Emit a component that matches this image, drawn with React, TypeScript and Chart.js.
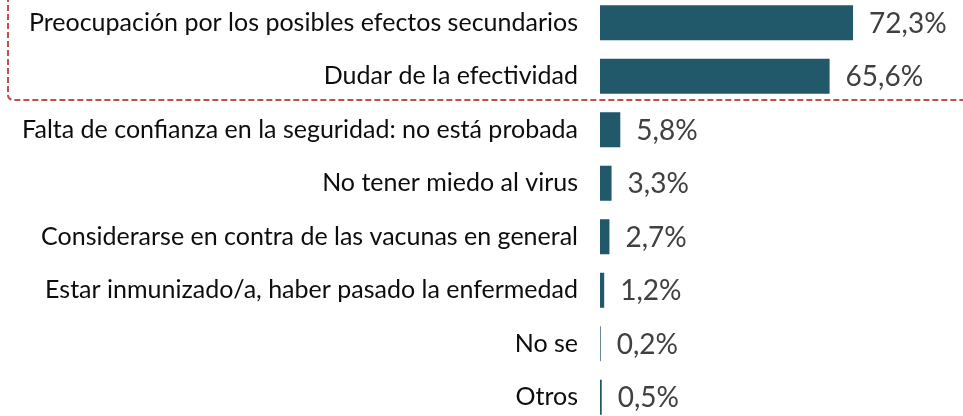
import React, { useEffect, useRef } from "react";
import { Chart, registerables } from "chart.js";

Chart.register(...registerables);

const categories: string[] = [
  "Preocupación por los posibles efectos secundarios",
  "Dudar de la efectividad",
  "Falta de confianza en la seguridad: no está probada",
  "No tener miedo al virus",
  "Considerarse en contra de las vacunas en general",
  "Estar inmunizado/a, haber pasado la enfermedad",
  "No se",
  "Otros",
];

const values: number[] = [72.3, 65.6, 5.8, 3.3, 2.7, 1.2, 0.2, 0.5];

const valueLabels: string[] = ["72,3%", "65,6%", "5,8%", "3,3%", "2,7%", "1,2%", "0,2%", "0,5%"];

const FONT = "Lato, 'Open Sans', sans-serif";

const valueLabelPlugin = {
  id: "valueLabels",
  afterDatasetsDraw(chart: any) {
    const ctx = chart.ctx;
    const meta = chart.getDatasetMeta(0);
    ctx.save();
    ctx.font = `28px ${FONT}`;
    ctx.fillStyle = "#404040";
    ctx.textAlign = "left";
    ctx.textBaseline = "middle";
    meta.data.forEach((bar: any, i: number) => {
      ctx.fillText(valueLabels[i], bar.x + 16, bar.y + 1);
    });
    ctx.restore();
  },
};

const dashedBoxPlugin = {
  id: "dashedBox",
  afterDraw(chart: any) {
    const ctx = chart.ctx;
    const y = chart.scales.y;
    const mid = (y.getPixelForValue(1) + y.getPixelForValue(2)) / 2 - 3;
    const x0 = 8;
    const r = 5;
    ctx.save();
    ctx.strokeStyle = "#C0504D";
    ctx.lineWidth = 2;
    ctx.setLineDash([6, 3]);
    ctx.beginPath();
    ctx.moveTo(x0, 0);
    ctx.lineTo(x0, mid - r);
    ctx.arcTo(x0, mid, x0 + r, mid, r);
    ctx.lineTo(chart.width, mid);
    ctx.stroke();
    ctx.restore();
  },
};

export default function App() {
  const ref = useRef<HTMLCanvasElement | null>(null);

  useEffect(() => {
    if (!ref.current) return;
    const chart = new Chart(ref.current, {
      type: "bar",
      data: {
        labels: categories,
        datasets: [
          {
            data: values,
            backgroundColor: "#22596A",
            borderWidth: 0,
            categoryPercentage: 1,
            barPercentage: 0.655,
          },
        ],
      },
      options: {
        indexAxis: "y",
        animation: false,
        responsive: false,
        layout: { padding: { top: 0, bottom: 0, left: 0, right: 13 } },
        plugins: {
          legend: { display: false },
          tooltip: { enabled: false },
        },
        scales: {
          x: {
            display: false,
            min: 0,
            max: 100,
          },
          y: {
            grid: { display: false, drawTicks: false },
            border: { display: false },
            ticks: {
              color: "#0d0d0d",
              font: { family: FONT, size: 25 },
              padding: 22,
              autoSkip: false,
            },
            afterFit(scale: any) {
              scale.width = 600;
              scale.paddingTop = 0;
              scale.paddingBottom = 0;
            },
          },
        },
      },
      plugins: [valueLabelPlugin, dashedBoxPlugin],
    });
    return () => chart.destroy();
  }, []);

  return (
    <div style={{ position: "absolute", left: 0, top: -4, width: 963, height: 428 }}>
      <canvas ref={ref} width={963} height={428} style={{ display: "block" }} />
    </div>
  );
}
